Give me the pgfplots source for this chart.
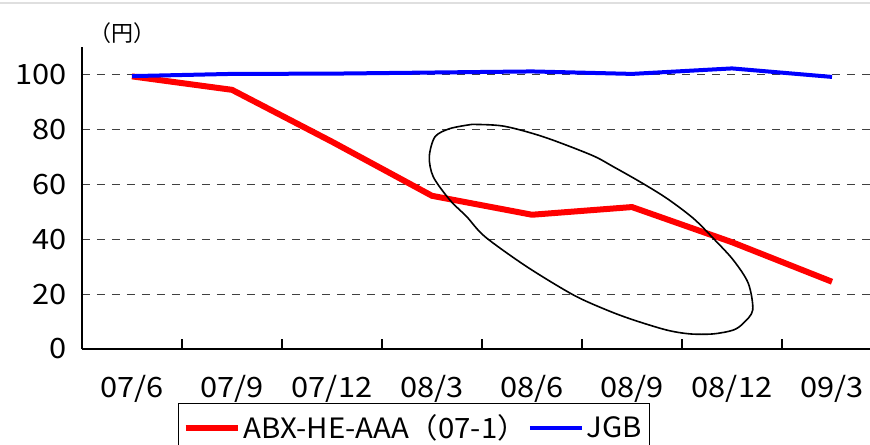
\documentclass[border=0pt]{standalone}
\usepackage{fontspec}
\setmainfont{Noto Sans CJK JP}
\newfontfamily\tickfont[FakeStretch=1.1]{Noto Sans CJK JP}
\newfontfamily\legfont[FakeStretch=1.05]{Noto Sans CJK JP}
\usepackage{pgfplots}
\pgfplotsset{compat=1.18}
\begin{document}
\begin{tikzpicture}
\useasboundingbox (-41bp,-48bp) rectangle (394bp,174.5bp);
\draw[gray!25, line width=1bp] (-41bp,173bp) -- (394bp,173bp);
\begin{axis}[
  at={(0,0)}, anchor=south west,
  width=394bp, height=151bp, scale only axis,
  xmin=-0.5, xmax=7.38, ymin=0, ymax=110,
  axis lines=left,
  axis line style={-, black, line width=0.6bp},
  xtick={0,...,7},
  xticklabels={07/6,07/9,07/12,08/3,08/6,08/9,08/12,09/3},
  minor xtick={0.5,1.5,...,6.5},
  major x tick style={draw=none},
  minor x tick style={black, line width=0.6bp},
  minor tick length=5bp,
  tick align=inside,
  ytick={0,20,...,100},
  major y tick style={draw=none},
  ymajorgrids,
  grid style={black!75, line width=0.5bp, dash pattern=on 4bp off 3.5bp},
  /pgf/number format/assume math mode=true,
  tick label style={font=\tickfont\fontsize{14bp}{16bp}\selectfont},
  xticklabel style={anchor=base, yshift=-24bp},
  yticklabel style={anchor=east, inner sep=0pt, xshift=-7.5bp},
  legend style={at={(0.1218,-0.1788)}, anchor=north west, draw=black,
    line width=0.6bp, font=\legfont\fontsize{14bp}{16bp}\selectfont,
    inner xsep=2bp, inner ysep=4bp, nodes={inner sep=1.5bp}},
  legend columns=2,
  legend image code/.code={\draw[#1] (0bp,0bp) -- (26bp,0bp);},
  /tikz/every even column/.append style={column sep=-1bp},
  clip=false,
]
\addplot[red, line width=3bp, line join=round] coordinates {
(0,99.3) (1,94.4) (2,75.5) (3,55.8) (4,48.9) (5,51.7) (6,38.9) (7,24.5)};
\addlegendentry{ABX-HE-AAA（07-1）}
\addplot[blue, line width=2bp, line join=round] coordinates {
(0,99.4) (1,100.2) (2,100.3) (3,100.7) (4,101.1) (5,100.2) (6,102.2) (7,99.1)};
\addlegendentry{JGB}
\addplot[black, line width=0.8bp, smooth, tension=0.5, forget plot] coordinates {
(3.397,81.8) (3.713,81.2) (4.113,77.3) (4.597,70.6) (4.813,66.4) (5.08,60.9)
(5.347,54.9) (5.613,47.6) (5.813,40.3) (6.013,32.4) (6.163,23.9) (6.207,14.2)
(6.113,9.4) (6.013,6.9) (5.813,5.5) (5.58,5.5) (5.347,6.9) (5.013,10.6)
(4.747,14.2) (4.413,19.7) (3.947,30.0) (3.53,40.9) (3.347,48.2) (3.18,54.2)
(3.013,62.7) (2.973,70.0) (3.03,77.3) (3.18,80.3) (3.397,81.8)};
\node[font=\fontsize{11bp}{13bp}\selectfont] at (rel axis cs:0.0508,1.046) {（円）};
\end{axis}
\end{tikzpicture}
\end{document}
